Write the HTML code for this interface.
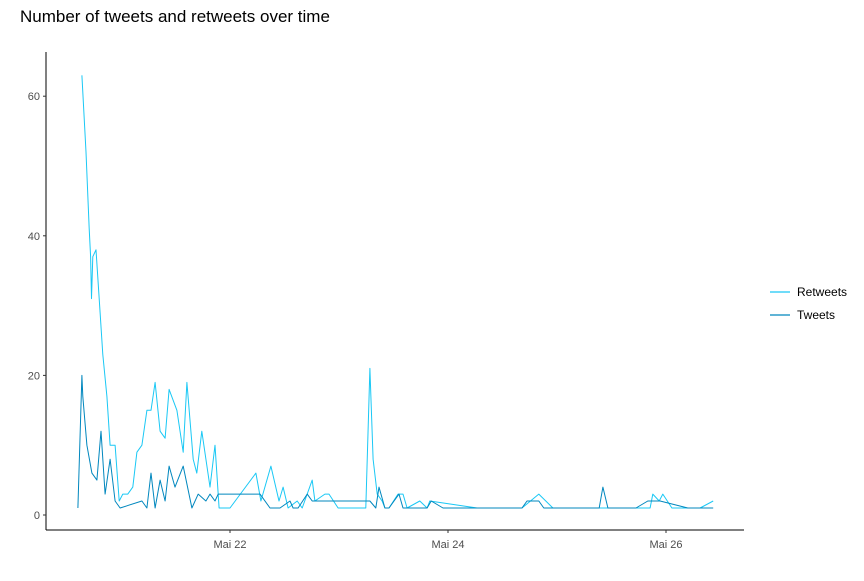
<!DOCTYPE html>
<html><head><meta charset="utf-8"><style>
body{margin:0;background:#fff;}
svg text{font-family:"Liberation Sans",sans-serif;}
</style></head><body>
<svg width="864" height="576" xmlns="http://www.w3.org/2000/svg" id="chart">
<text x="20" y="22" font-size="17" fill="#000">Number of tweets and retweets over time</text>
<g id="axes"></g>
<g id="series"></g>
<g>
<line x1="770" y1="292" x2="790" y2="292" stroke="#1ac8f5" stroke-width="1.2"/>
<text x="797" y="296" font-size="12" fill="#000">Retweets</text>
<line x1="770" y1="315" x2="790" y2="315" stroke="#0087be" stroke-width="1.2"/>
<text x="797" y="319" font-size="12" fill="#000">Tweets</text>
</g>
</svg>
<script>
// hours since Mai 20 00:00
const retweetTimes=[15.4,16.3,17.0,17.3,17.5,17.8,18.5,19.4,20.0,20.9,21.6,22.7,23.6,24.4,25.5,26.6,27.5,28.6,29.7,30.6,31.5,32.6,33.7,34.6,36.3,37.7,38.5,39.9,40.7,41.8,43.6,44.7,45.6,48.0,53.7,54.8,57.0,58.8,59.7,60.8,62.8,63.9,66.1,66.7,68.9,69.8,71.8,77.9,78.8,79.5,80.4,81.5,82.1,83.0,85.0,86.1,87.0,89.8,91.4,92.0,102.4,112.3,116.0,119.1,140.5,141.1,142.5,143.3,145.3,151.5,154.4];
const retweetValues=[63,52,41,37,31,37,38,29,23,17,10,10,2,3,3,4,9,10,15,15,19,12,11,18,15,9,19,8,6,12,4,10,1,1,6,2,7,2,4,1,2,1,5,2,3,3,1,1,21,8,3,2,1,1,3,3,1,2,1,2,1,1,3,1,1,3,2,3,1,1,2];
const tweetTimes=[14.5,15.4,15.6,16.5,17.6,18.7,19.6,20.5,21.6,22.7,23.8,28.6,29.7,30.6,31.5,32.6,33.7,34.6,35.9,37.7,39.6,41.0,42.7,43.6,44.7,45.4,54.6,56.8,59.0,61.2,61.9,63.0,65.0,66.1,78.8,80.1,80.8,82.1,83.0,85.2,86.1,91.4,92.3,94.9,112.3,113.4,116.0,117.1,129.3,130.1,131.2,137.4,140.0,142.7,148.8,154.4];
const tweetValues=[1,20,17,10,6,5,12,3,8,2,1,2,1,6,1,5,2,7,4,7,1,3,2,3,2,3,3,1,1,2,1,1,3,2,2,1,4,1,1,3,1,1,2,1,1,2,2,1,1,4,1,1,2,2,1,1];
const yTicks=[0,20,40,60];
const xTickHours=[48,96,144];
const xTickLabels=["Mai 22","Mai 24","Mai 26"];

const NS="http://www.w3.org/2000/svg";
const X=h=>230+(h-48)*109/24;
const Y=v=>515-v*6.98;
const axes=document.getElementById('axes'), ser=document.getElementById('series');
function mk(tag,attrs,parent){const e=document.createElementNS(NS,tag);for(const k in attrs)e.setAttribute(k,attrs[k]);parent.appendChild(e);return e;}

let yl=mk('line',{x1:46,y1:52,x2:46,y2:530,stroke:'#000','stroke-width':1},axes);


let xl=mk('line',{x1:46,y1:530,x2:744,y2:530,stroke:'#000','stroke-width':1},axes);


yTicks.forEach(v=>{
  const t=mk('line',{x1:43,y1:Y(v),x2:46,y2:Y(v),stroke:'#333'},axes);
  
  
  const l=mk('text',{x:40,y:Y(v)+4,'font-size':11,fill:'#4d4d4d','text-anchor':'end'},axes);
  l.textContent=v;
  
  
});
xTickHours.forEach((h,i)=>{
  const t=mk('line',{x1:X(h),y1:530,x2:X(h),y2:533,stroke:'#333'},axes);
  
  
  const l=mk('text',{x:X(h),y:548,'font-size':11,fill:'#4d4d4d','text-anchor':'middle'},axes);
  l.textContent=xTickLabels[i];
  
  
});
function line(ts,vs,color,name){
  const d=ts.map((t,i)=>(i?'L':'M')+X(t).toFixed(1)+','+Y(vs[i]).toFixed(1)).join('');
  const p=mk('path',{d:d,fill:'none',stroke:color,'stroke-width':1,'stroke-linejoin':'round'},ser);
  
  
}
line(retweetTimes,retweetValues,'#1ac8f5','retweets-line');
line(tweetTimes,tweetValues,'#0087be','tweets-line');
</script>
</body></html>
